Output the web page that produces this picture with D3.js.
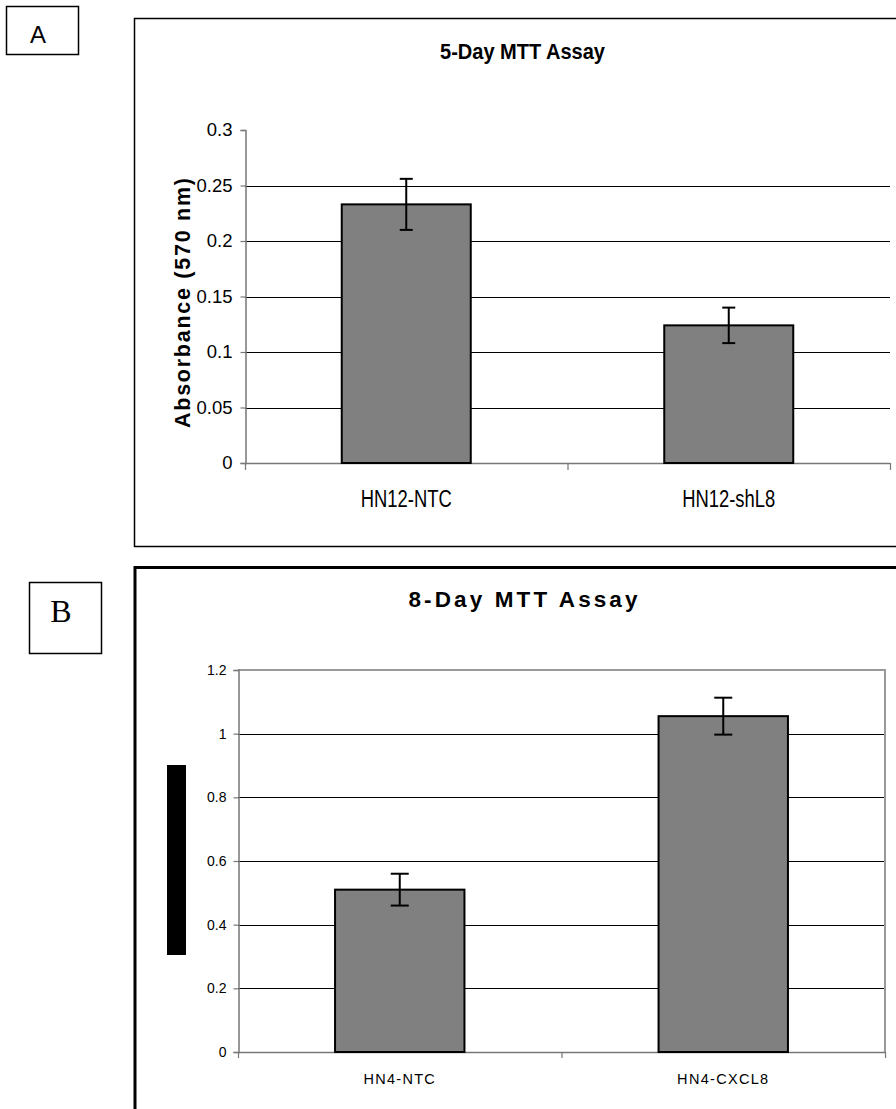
<!DOCTYPE html>
<html><head><meta charset="utf-8">
<script src="https://cdn.jsdelivr.net/npm/d3@7"></script>
<style>body{margin:0;background:#fff} text{font-family:"Liberation Sans",Arial,sans-serif}</style>
</head><body>
<svg id="c" width="896" height="1109"></svg>
<script>
// ---- Panel A data ----
const catsA = ["HN12-NTC", "HN12-shL8"];
const meanA = [0.233, 0.124];
const errA = [0.023, 0.016];
const ticksA = [0, 0.05, 0.1, 0.15, 0.2, 0.25, 0.3];
const tickLabelsA = ["0", "0.05", "0.1", "0.15", "0.2", "0.25", "0.3"];
const titleA = "5-Day MTT Assay";
const yLabelA = "Absorbance (570 nm)";
// ---- Panel B data ----
const catsB = ["HN4-NTC", "HN4-CXCL8"];
const meanB = [0.51, 1.055];
const errB = [0.05, 0.058];
const ticksB = [0, 0.2, 0.4, 0.6, 0.8, 1, 1.2];
const tickLabelsB = ["0", "0.2", "0.4", "0.6", "0.8", "1", "1.2"];
const titleB = "8-Day MTT Assay";

const svg = d3.select("#c");

function squeeze(sel, k) {
  sel.each(function () {
    const w = this.getComputedTextLength();
    this.setAttribute("textLength", w * k);
    this.setAttribute("lengthAdjust", "spacingAndGlyphs");
  });
}
function stretchTo(sel, len) {
  sel.attr("textLength", len).attr("lengthAdjust", "spacing");
}

// ================= PANEL A =================
svg.append("rect").attr("x", 6.5).attr("y", 6.5).attr("width", 72).attr("height", 48)
  .attr("fill", "none").attr("stroke", "#000").attr("stroke-width", 1.5);
svg.append("text").attr("x", 38).attr("y", 43).attr("text-anchor", "middle")
  .attr("font-size", 24).text("A");

svg.append("rect").attr("x", 134.5).attr("y", 18.5).attr("width", 900).attr("height", 528)
  .attr("fill", "none").attr("stroke", "#000").attr("stroke-width", 1.5);

const xA = d3.scaleBand().domain(catsA).range([245, 890]).paddingInner(0.6).paddingOuter(0.3);
const yA = d3.scaleLinear().domain([0, 0.3]).range([463, 130]);
const gA = svg.append("g");

// gridlines
gA.selectAll("line.grid").data(ticksA.filter(t => t > 0 && t < 0.3)).join("line")
  .attr("x1", 245).attr("x2", 890)
  .attr("y1", d => Math.round(yA(d)) + 0.5).attr("y2", d => Math.round(yA(d)) + 0.5)
  .attr("stroke", "#000").attr("stroke-width", 1);

// y axis
const axA = gA.append("g").attr("transform", "translate(245.5,0)")
  .call(d3.axisLeft(yA).tickValues(ticksA).tickSize(5).tickPadding(8)
    .tickFormat((d, i) => tickLabelsA[i]));
axA.select(".domain").attr("stroke", "#777").attr("stroke-width", 1.5);
axA.selectAll(".tick line").attr("stroke", "#777").attr("stroke-width", 1.2);
axA.selectAll(".tick text").attr("font-size", 18.5).attr("fill", "#000")
  .style("font-family", "'Liberation Sans', Arial, sans-serif");

// x axis
const stepA = xA.step(), offA = (stepA - xA.bandwidth()) / 2;
const bndA = catsA.map(c => xA(c) - offA).concat([xA(catsA[catsA.length - 1]) - offA + stepA]);
gA.append("line").attr("x1", 245).attr("x2", 890).attr("y1", 463.5).attr("y2", 463.5)
  .attr("stroke", "#777").attr("stroke-width", 1.5);
gA.selectAll("line.xt").data(bndA).join("line")
  .attr("x1", d => d + 0.5).attr("x2", d => d + 0.5).attr("y1", 463).attr("y2", 470)
  .attr("stroke", "#777").attr("stroke-width", 1.2);

// bars
gA.selectAll("rect.bar").data(catsA).join("rect")
  .attr("x", d => xA(d)).attr("width", xA.bandwidth())
  .attr("y", (d, i) => yA(meanA[i])).attr("height", (d, i) => yA(0) - yA(meanA[i]))
  .attr("fill", "#808080").attr("stroke", "#000").attr("stroke-width", 2);

// error bars
const capA = 6.5;
catsA.forEach((c, i) => {
  const cx = xA(c) + xA.bandwidth() / 2;
  const t = yA(meanA[i] + errA[i]), b = yA(meanA[i] - errA[i]);
  gA.append("line").attr("x1", cx).attr("x2", cx).attr("y1", t).attr("y2", b).attr("stroke", "#000").attr("stroke-width", 2);
  gA.append("line").attr("x1", cx - capA).attr("x2", cx + capA).attr("y1", t).attr("y2", t).attr("stroke", "#000").attr("stroke-width", 2);
  gA.append("line").attr("x1", cx - capA).attr("x2", cx + capA).attr("y1", b).attr("y2", b).attr("stroke", "#000").attr("stroke-width", 2);
});

// category labels
gA.selectAll("text.cat").data(catsA).join("text")
  .attr("x", d => xA(d) + xA.bandwidth() / 2).attr("y", 506.5).attr("text-anchor", "middle")
  .attr("font-size", 23).text(d => d).call(squeeze, 0.8);

// title
gA.append("text").attr("x", 522.5).attr("y", 59).attr("text-anchor", "middle")
  .attr("font-size", 22).attr("font-weight", "bold").text(titleA)
  .call(stretchTo, 165).attr("lengthAdjust", "spacingAndGlyphs");

// y label
gA.append("text").attr("transform", "translate(190,303) rotate(-90)").attr("text-anchor", "middle")
  .attr("font-size", 21.5).attr("font-weight", "bold").text(yLabelA).call(stretchTo, 250);

// ================= PANEL B =================
svg.append("rect").attr("x", 29.5).attr("y", 582.5).attr("width", 72).attr("height", 71)
  .attr("fill", "none").attr("stroke", "#000").attr("stroke-width", 1.5);
svg.append("text").attr("x", 61).attr("y", 622).attr("text-anchor", "middle")
  .attr("font-size", 32).style("font-family", "'Liberation Serif','Times New Roman',serif").text("B");

svg.append("rect").attr("x", 135).attr("y", 567.5).attr("width", 900).attr("height", 700)
  .attr("fill", "none").attr("stroke", "#000").attr("stroke-width", 3);

const xB = d3.scaleBand().domain(catsB).range([238, 885]).paddingInner(0.6).paddingOuter(0.3);
const yB = d3.scaleLinear().domain([0, 1.2]).range([1052, 670]);
const gB = svg.append("g");

gB.selectAll("line.grid").data(ticksB.filter(t => t > 0 && t < 1.2)).join("line")
  .attr("x1", 238).attr("x2", 885)
  .attr("y1", d => Math.round(yB(d)) + 0.5).attr("y2", d => Math.round(yB(d)) + 0.5)
  .attr("stroke", "#000").attr("stroke-width", 1);

// plot area border (top and right)
gB.append("path").attr("d", `M238,${yB(1.2)}H885V${yB(0)}`).attr("fill", "none")
  .attr("stroke", "#999").attr("stroke-width", 2);

const axB = gB.append("g").attr("transform", "translate(238.5,0)")
  .call(d3.axisLeft(yB).tickValues(ticksB).tickSize(5).tickPadding(7)
    .tickFormat((d, i) => tickLabelsB[i]));
axB.select(".domain").attr("stroke", "#777").attr("stroke-width", 1.5);
axB.selectAll(".tick line").attr("stroke", "#777").attr("stroke-width", 1.2);
axB.selectAll(".tick text").attr("font-size", 14).attr("fill", "#000")
  .style("font-family", "'Liberation Sans', Arial, sans-serif");

const stepB = xB.step(), offB = (stepB - xB.bandwidth()) / 2;
const bndB = catsB.map(c => xB(c) - offB).concat([xB(catsB[catsB.length - 1]) - offB + stepB]);
gB.append("line").attr("x1", 238).attr("x2", 885).attr("y1", 1052.5).attr("y2", 1052.5)
  .attr("stroke", "#777").attr("stroke-width", 1.5);
gB.selectAll("line.xt").data(bndB).join("line")
  .attr("x1", d => d + 0.5).attr("x2", d => d + 0.5).attr("y1", 1052).attr("y2", 1058)
  .attr("stroke", "#777").attr("stroke-width", 1.2);

gB.selectAll("rect.bar").data(catsB).join("rect")
  .attr("x", d => xB(d)).attr("width", xB.bandwidth())
  .attr("y", (d, i) => yB(meanB[i])).attr("height", (d, i) => yB(0) - yB(meanB[i]))
  .attr("fill", "#808080").attr("stroke", "#000").attr("stroke-width", 2);

const capB = 9;
catsB.forEach((c, i) => {
  const cx = xB(c) + xB.bandwidth() / 2;
  const t = yB(meanB[i] + errB[i]), b = yB(meanB[i] - errB[i]);
  gB.append("line").attr("x1", cx).attr("x2", cx).attr("y1", t).attr("y2", b).attr("stroke", "#000").attr("stroke-width", 2);
  gB.append("line").attr("x1", cx - capB).attr("x2", cx + capB).attr("y1", t).attr("y2", t).attr("stroke", "#000").attr("stroke-width", 2);
  gB.append("line").attr("x1", cx - capB).attr("x2", cx + capB).attr("y1", b).attr("y2", b).attr("stroke", "#000").attr("stroke-width", 2);
});

gB.selectAll("text.cat").data(catsB).join("text")
  .attr("x", d => xB(d) + xB.bandwidth() / 2).attr("y", 1084).attr("text-anchor", "middle")
  .attr("font-size", 14.5).attr("letter-spacing", 1.3).text(d => d);

gB.append("text").attr("x", 523).attr("y", 607).attr("text-anchor", "middle")
  .attr("font-size", 22.5).attr("font-weight", "bold").text(titleB).call(stretchTo, 229);

// obscured y-axis label area in panel B
gB.append("rect").attr("x", 167).attr("y", 765).attr("width", 19).attr("height", 190).attr("fill", "#000");
</script>
</body></html>
